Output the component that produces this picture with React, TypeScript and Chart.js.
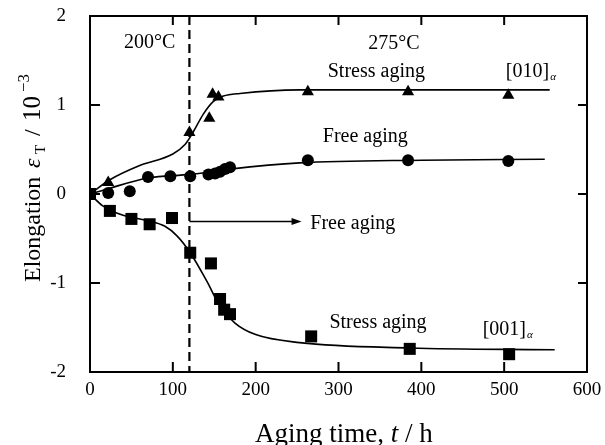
import React, { useEffect, useRef } from "react";
import { Chart, registerables } from "chart.js";
Chart.register(...registerables);

const FONT = "'Liberation Serif', 'Times New Roman', serif";

// Measured points
const triX = [22, 120, 144, 148, 155, 263, 384, 505];
const triY = [0.13, 0.69, 0.85, 1.12, 1.09, 1.15, 1.15, 1.11];

const cirX = [0, 22, 48, 70, 97, 121, 143, 151, 157, 163, 169, 263, 384, 505];
const cirY = [0, 0.01, 0.03, 0.19, 0.2, 0.2, 0.22, 0.23, 0.25, 0.28, 0.3, 0.38, 0.38, 0.37];

const sqX = [0, 24, 50, 72, 99, 121, 146, 157, 162, 169, 267, 386, 506];
const sqY = [0, -0.19, -0.28, -0.34, -0.27, -0.66, -0.78, -1.18, -1.3, -1.35, -1.6, -1.74, -1.8];

// Fitted curves
const fit010X = [0, 24, 60, 100, 115, 123, 137, 149, 161, 181, 253, 555];
const fit010Y = [0, 0.16, 0.32, 0.45, 0.56, 0.67, 0.9, 1.04, 1.1, 1.13, 1.17, 1.17];

const fitFreeX = [0, 22, 70, 121, 169, 253, 400, 549];
const fitFreeY = [0, 0.06, 0.18, 0.22, 0.28, 0.35, 0.38, 0.39];

const fit001X = [0, 15, 40, 70, 90, 105, 121, 141, 157, 175, 200, 253, 386, 561];
const fit001Y = [0, -0.13, -0.24, -0.3, -0.36, -0.47, -0.66, -0.98, -1.26, -1.45, -1.58, -1.67, -1.73, -1.75];

const xTickLabels = [0, 100, 200, 300, 400, 500, 600];
const yTickLabels = [-2, -1, 0, 1, 2];
const innerXTicks = [100, 200, 300, 400, 500];
const innerYTicks = [-1, 0, 1];

const switchTime = 120;
const arrowY = -0.31;
const arrowEndX = 253;

const toPts = (xs: number[], ys: number[]) => xs.map((x, i) => ({ x, y: ys[i] }));

const annotPlugin = {
  id: "annot",
  beforeDatasetsDraw(chart: any) {
    const ctx = chart.ctx;
    const xs = chart.scales.x;
    const ys = chart.scales.y;
    const { top, bottom } = chart.chartArea;
    ctx.save();
    const px = xs.getPixelForValue(switchTime);
    ctx.strokeStyle = "#000";
    ctx.lineWidth = 2.2;
    ctx.setLineDash([9, 5]);
    ctx.beginPath();
    ctx.moveTo(px, top);
    ctx.lineTo(px, bottom);
    ctx.stroke();
    ctx.setLineDash([]);
    const ay = ys.getPixelForValue(arrowY);
    const ax2 = xs.getPixelForValue(arrowEndX);
    ctx.lineWidth = 1.5;
    ctx.beginPath();
    ctx.moveTo(px, ay);
    ctx.lineTo(ax2 - 6, ay);
    ctx.stroke();
    ctx.fillStyle = "#000";
    ctx.beginPath();
    ctx.moveTo(ax2 + 2, ay);
    ctx.lineTo(ax2 - 8, ay - 3.5);
    ctx.lineTo(ax2 - 8, ay + 3.5);
    ctx.closePath();
    ctx.fill();
    ctx.restore();
  },
  afterDraw(chart: any) {
    const ctx = chart.ctx;
    const xs = chart.scales.x;
    const ys = chart.scales.y;
    const { left, right, top, bottom } = chart.chartArea;
    ctx.save();
    ctx.strokeStyle = "#000";
    ctx.lineWidth = 2;
    ctx.strokeRect(left, top, right - left, bottom - top);
    ctx.beginPath();
    innerXTicks.forEach((v) => {
      const p = xs.getPixelForValue(v);
      ctx.moveTo(p, bottom);
      ctx.lineTo(p, bottom - 10);
      ctx.moveTo(p, top);
      ctx.lineTo(p, top + 9);
    });
    innerYTicks.forEach((v) => {
      const p = ys.getPixelForValue(v);
      ctx.moveTo(left, p);
      ctx.lineTo(left + 10, p);
      ctx.moveTo(right, p);
      ctx.lineTo(right - 9, p);
    });
    ctx.stroke();

    ctx.fillStyle = "#000";
    ctx.textBaseline = "alphabetic";
    ctx.textAlign = "left";
    const txt = (s: string, x: number, y: number, size = 20, style = "") => {
      ctx.font = `${style} ${size}px ${FONT}`;
      ctx.fillText(s, xs.getPixelForValue(x), ys.getPixelForValue(y));
    };
    txt("200°C", 41, 1.64);
    txt("275°C", 336, 1.63);
    txt("Stress aging", 287, 1.31);
    txt("Free aging", 281, 0.58);
    txt("Free aging", 266, -0.39);
    txt("Stress aging", 289, -1.51);

    const bracket = (s: string, x: number, y: number) => {
      ctx.font = `20px ${FONT}`;
      const px = xs.getPixelForValue(x);
      const py = ys.getPixelForValue(y);
      ctx.fillText(s, px, py);
      const w = ctx.measureText(s).width;
      ctx.font = `italic 11px ${FONT}`;
      ctx.fillText("α", px + w + 1, py + 3);
    };
    bracket("[010]", 502, 1.31);
    bracket("[001]", 474, -1.58);

    // x title
    let cx = 255;
    const by = 442;
    const seg = (s: string, style: string, size: number) => {
      ctx.font = `${style} ${size}px ${FONT}`;
      ctx.fillText(s, cx, by);
      cx += ctx.measureText(s).width;
    };
    seg("Aging time, ", "", 27);
    seg("t", "italic", 27);
    seg(" / h", "", 27);

    // y title
    ctx.save();
    ctx.translate(40, 282);
    ctx.rotate(-Math.PI / 2);
    const rseg = (s: string, at: number, style: string, size: number, dy = 0) => {
      ctx.font = `${style} ${size}px ${FONT}`;
      ctx.fillText(s, at, dy);
    };
    rseg("Elongation", 0, "", 24);
    rseg("ε", 114, "italic", 24);
    rseg("T", 128, "", 15, 5);
    rseg("/", 146, "", 24);
    rseg("10", 161, "", 25);
    rseg("−3", 190, "", 17, -11);
    ctx.restore();

    ctx.restore();
  },
};

export default function App() {
  const ref = useRef<HTMLCanvasElement>(null);
  useEffect(() => {
    if (!ref.current) return;
    const lineDs = (xs: number[], ys: number[]) => ({
      type: "line" as const,
      data: toPts(xs, ys),
      borderColor: "#000",
      borderWidth: 1.6,
      pointRadius: 0,
      showLine: true,
      fill: false,
      cubicInterpolationMode: "monotone" as const,
    });
    const markDs = (xs: number[], ys: number[], style: string, r: number) => ({
      type: "scatter" as const,
      data: toPts(xs, ys),
      pointStyle: style,
      pointRadius: r,
      backgroundColor: "#000",
      borderColor: "#000",
      borderWidth: 0,
      showLine: false,
    });
    const chart = new Chart(ref.current, {
      type: "scatter",
      data: {
        datasets: [
          lineDs(fit010X, fit010Y),
          lineDs(fitFreeX, fitFreeY),
          lineDs(fit001X, fit001Y),
          markDs(triX, triY, "triangle", 7),
          markDs(cirX, cirY, "circle", 6),
          markDs(sqX, sqY, "rect", 8.5),
        ] as any,
      },
      options: {
        responsive: false,
        maintainAspectRatio: false,
        animation: false,
        layout: { padding: { top: 16, right: 18, left: 0, bottom: 0 } },
        plugins: { legend: { display: false }, tooltip: { enabled: false } },
        scales: {
          x: {
            type: "linear",
            min: 0,
            max: 600,
            afterBuildTicks: (s: any) => {
              s.ticks = xTickLabels.map((v) => ({ value: v }));
            },
            afterFit: (s: any) => {
              s.height = 73;
              s.paddingLeft = 0;
              s.paddingRight = 0;
            },
            ticks: { color: "#000", font: { family: FONT, size: 19 }, padding: 7, maxRotation: 0 },
            grid: { display: false, drawTicks: false },
            border: { display: false },
          },
          y: {
            type: "linear",
            min: -2,
            max: 2,
            afterBuildTicks: (s: any) => {
              s.ticks = yTickLabels.map((v) => ({ value: v }));
            },
            afterFit: (s: any) => {
              s.width = 90;
              s.paddingTop = 0;
              s.paddingBottom = 0;
            },
            ticks: { color: "#000", font: { family: FONT, size: 19 }, padding: 24 },
            grid: { display: false, drawTicks: false },
            border: { display: false },
          },
        },
      },
      plugins: [annotPlugin],
    });
    return () => chart.destroy();
  }, []);
  return (
    <div style={{ position: "fixed", left: 0, top: 0, width: 605, height: 445, background: "#fff" }}>
      <canvas ref={ref} width={605} height={445} style={{ display: "block" }} />
    </div>
  );
}
